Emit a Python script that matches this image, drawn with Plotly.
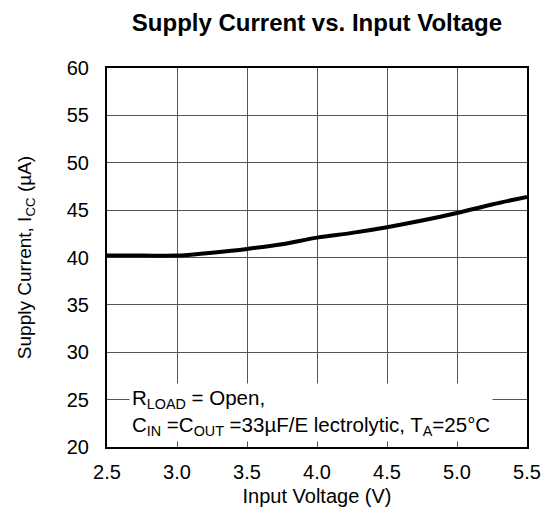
import plotly.graph_objects as go

voltage = [2.5, 2.75, 3.0, 3.1, 3.25, 3.5, 3.75, 4.0, 4.25, 4.5, 4.75, 5.0, 5.25, 5.5]
current = [40.2, 40.2, 40.2, 40.3, 40.5, 40.9, 41.4, 42.1, 42.6, 43.2, 43.9, 44.7, 45.6, 46.4]

x_ticks = [2.5, 3.0, 3.5, 4.0, 4.5, 5.0, 5.5]
x_tick_text = ["2.5", "3.0", "3.5", "4.0", "4.5", "5.0", "5.5"]
y_ticks = [20, 25, 30, 35, 40, 45, 50, 55, 60]

font = "Liberation Sans, Arial, sans-serif"

fig = go.Figure()
fig.add_trace(go.Scatter(x=voltage, y=current, mode="lines",
                         line=dict(color="black", width=4, shape="spline"),
                         showlegend=False, hoverinfo="skip"))

fig.add_annotation(
    x=2.66, y=23.6, xref="x", yref="y", xanchor="left", yanchor="middle",
    text="R<sub>LOAD</sub> = Open,<br>C<sub>IN</sub> =C<sub>OUT</sub> =33µF/E lectrolytic, T<sub>A</sub>=25°C",
    showarrow=False, align="left", bgcolor="white",
    font=dict(family=font, size=20.5, color="black"), borderpad=2,
)

fig.update_layout(
    width=545, height=513,
    margin=dict(l=107, r=18, t=68, b=66, autoexpand=False),
    paper_bgcolor="white", plot_bgcolor="white",
    title=dict(text="<b>Supply Current vs. Input Voltage</b>", x=0.5, xref="paper",
               xanchor="center", y=0.955, yanchor="middle",
               font=dict(family=font, size=24, color="black")),
    xaxis=dict(range=[2.5, 5.5], tickvals=x_ticks, ticktext=x_tick_text,
               showgrid=True, gridcolor="#555555", gridwidth=1,
               showline=True, linecolor="black", linewidth=2, mirror=True,
               ticks="", zeroline=False, ticklabelstandoff=6, automargin=False,
               tickfont=dict(family=font, size=20, color="black"),
               title=dict(text="Input Voltage (V)", font=dict(family=font, size=20, color="black"),
                          standoff=7)),
    yaxis=dict(range=[20, 60], tickvals=y_ticks,
               showgrid=True, gridcolor="#555555", gridwidth=1,
               showline=True, linecolor="black", linewidth=2, mirror=True,
               ticks="", zeroline=False, ticklabelstandoff=12, automargin=False,
               tickfont=dict(family=font, size=20, color="black"),
               title=dict(text="Supply Current, I<sub>CC</sub> (µA)",
                          font=dict(family=font, size=19, color="black"), standoff=30)),
)

fig.write_html("out.html", config={"displayModeBar": False},
               post_script="document.body.style.margin='0';")
